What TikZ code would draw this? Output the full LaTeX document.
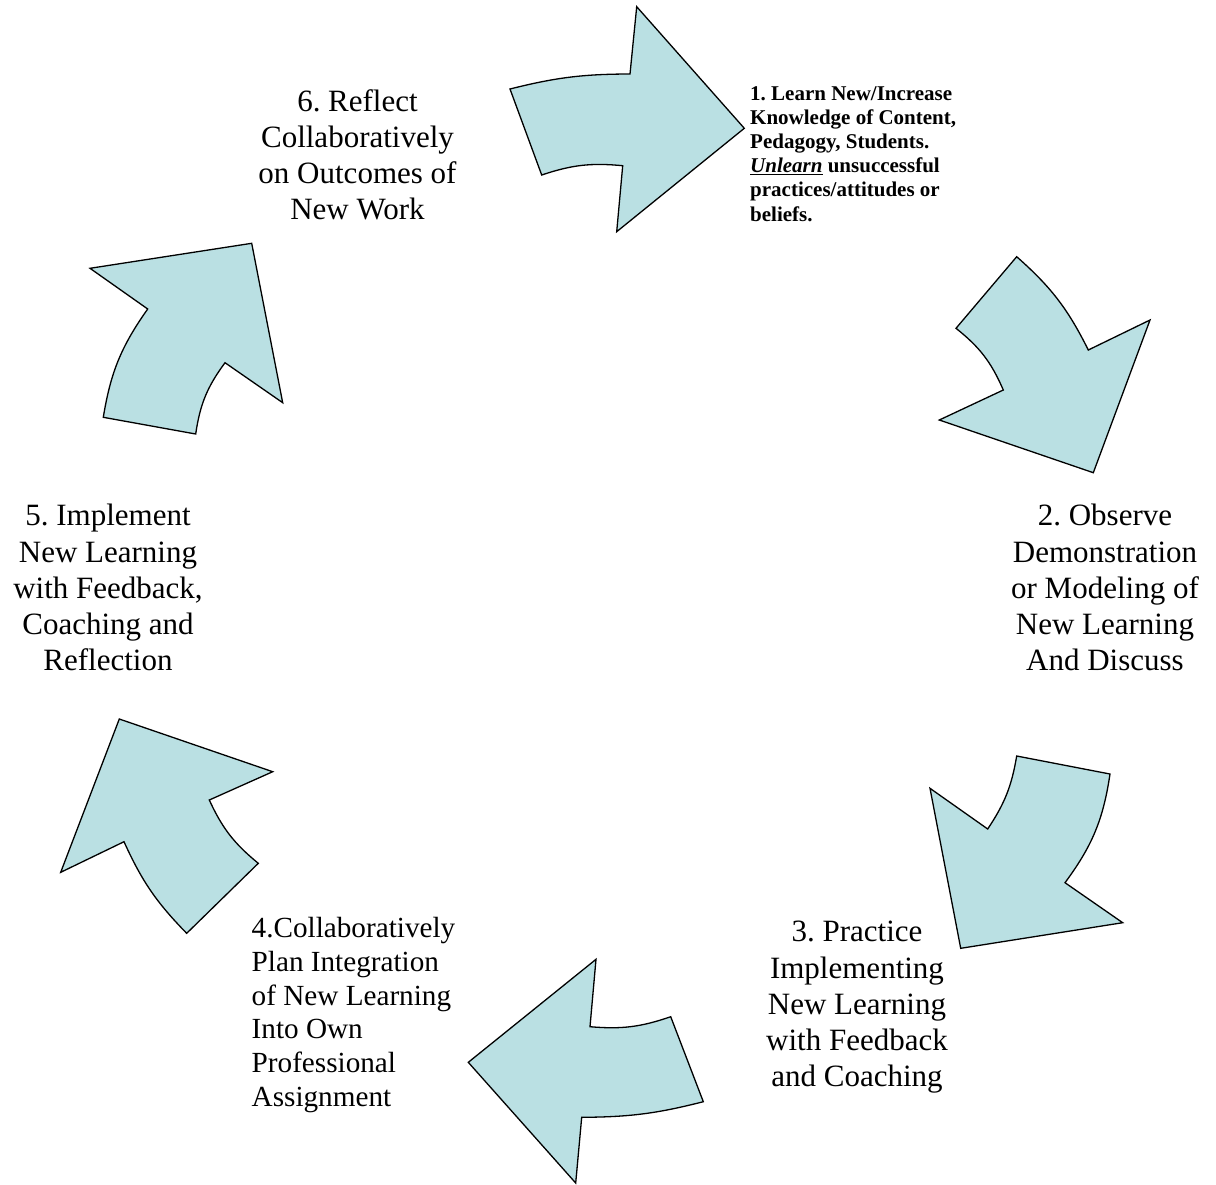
\documentclass[tikz,border=0pt]{standalone}
\usepackage{fontspec}
\setmainfont{Liberation Serif}
\frenchspacing
\definecolor{arrowfill}{RGB}{186,224,227}
\begin{document}
\begin{tikzpicture}[x=1pt,y=-1pt,
  blk/.style={fill=arrowfill, draw=black, line width=1.3pt, line join=miter},
  biglbl/.style={inner sep=0pt, align=center, font=\frenchspacing\fontsize{31}{36.3}\selectfont},
  midlbl/.style={inner sep=0pt, align=left, font=\frenchspacing\fontsize{29.2}{33.8}\selectfont},
  smalllbl/.style={inner sep=0pt, align=left, font=\frenchspacing\bfseries\fontsize{21}{24.1}\selectfont}]
\useasboundingbox (0,0) rectangle (1216,1184);
% arrow 1 (top)
\draw[blk] (510,89) to[bend left=7] (630,74) -- (636.7,6.7) -- (744.3,128.3) -- (616.7,231.7) -- (622.7,165.7) to[bend right=12] (541.7,175) -- cycle;
% arrow 2 (upper right)
\draw[blk] (1016.7,256.7) to[bend left=11] (1088.3,350) -- (1150,320) -- (1093.3,472.7) -- (939.3,420) -- (1003.3,390) to[bend right=14] (956,328.3) -- cycle;
% arrow 3 (lower right)
\draw[blk] (1016.7,756) -- (1110,774) to[bend left=14] (1065,882.7) -- (1122.7,922.7) -- (960.7,948.3) -- (930,788.3) -- (987.7,829) to[bend right=12] (1016.7,756) -- cycle;
% arrow 4 (bottom)
\draw[blk] (596,959.3) -- (590,1026.7) to[bend right=12] (670.7,1016.7) -- (703.3,1101.7) to[bend left=7] (581.7,1117.3) -- (575.7,1183) -- (468.3,1062.3) -- cycle;
% arrow 5 (lower left)
\draw[blk] (119.3,719) -- (272.7,771.7) -- (209.3,800) to[bend right=13] (258.3,863.3) -- (186.7,933.3) to[bend left=10] (124,841.7) -- (60.7,872.3) -- cycle;
% arrow 6 (upper left)
\draw[blk] (90,268.3) -- (251.7,243.3) -- (282.7,402.7) -- (225,362.7) to[bend right=14] (195.7,434) -- (103.3,417.3) to[bend left=13] (147.7,309) -- cycle;
% labels
\node[smalllbl, anchor=north west] (l1) at (750,86.5) {1. Learn New/Increase\\Knowledge of Content,\\Pedagogy, Students.\\\underline{\textit{Unlearn}} unsuccessful\\practices/attitudes or\\beliefs.};
\node[biglbl, anchor=north] (l2) at (1105,504) {2. Observe\\Demonstration\\or Modeling of\\New Learning\\And Discuss};
\node[biglbl, anchor=north] (l3) at (857,921) {3. Practice\\Implementing\\New Learning\\with Feedback\\and Coaching};
\node[midlbl, anchor=north west] (l4) at (251.5,917) {4.Collaboratively\\Plan Integration\\of New Learning\\Into Own\\Professional\\Assignment};
\node[biglbl, anchor=north] (l5) at (108,504) {5. Implement\\New Learning\\with Feedback,\\Coaching and\\Reflection};
\node[biglbl, anchor=north] (l6) at (357.5,89) {6. Reflect\\Collaboratively\\on Outcomes of\\New Work};
\end{tikzpicture}
\end{document}
